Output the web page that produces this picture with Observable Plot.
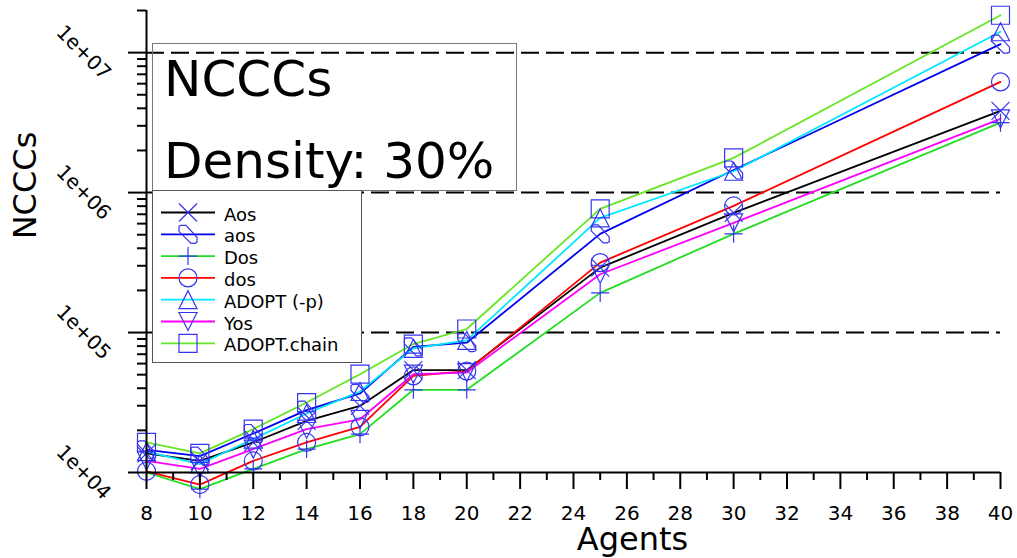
<!DOCTYPE html>
<html>
<head>
<meta charset="utf-8">
<script src="https://cdn.jsdelivr.net/npm/d3@7"></script>
<script src="https://cdn.jsdelivr.net/npm/@observablehq/plot@0.6"></script>
<style>
  html, body { margin: 0; padding: 0; background: #fff; }
  #wrap { position: relative; width: 1017px; height: 558px; font-family: "DejaVu Sans", sans-serif; }
  #overlay { position: absolute; left: 0; top: 0; pointer-events: none; }
</style>
</head>
<body>
<div id="wrap"></div>
<script>
// ---- data ----
const agents = [8, 10, 12, 14, 16, 18, 20, 25, 30, 40];
const seriesNames = ["Aos", "aos", "Dos", "dos", "ADOPT (-p)", "Yos", "ADOPT.chain"];
const Aos        = [13700, 12100, 16400, 23400, 29900, 53900, 53900, 291000, 716000, 3840000];
const aos        = [14500, 13100, 19000, 27900, 36700, 79000, 84600, 507000, 1450000, 11500000];
const Dos        = [10000, 7600, 10600, 14700, 18800, 39000, 39000, 192000, 507000, 3160000];
const dos        = [10200, 8200, 12100, 16400, 21200, 49000, 53000, 316000, 803000, 6180000];
const ADOPTp     = [14100, 11500, 17300, 26400, 37900, 77100, 88000, 659000, 1420000, 14100000];
const Yos        = [12100, 10600, 14700, 20400, 24000, 50400, 51800, 261000, 608000, 3360000];
const ADOPTchain = [16400, 13700, 20400, 31600, 50400, 82700, 106000, 765000, 1770000, 18500000];
const seriesValues = [Aos, aos, Dos, dos, ADOPTp, Yos, ADOPTchain];
const lineColors = ["#000000", "#0000ee", "#22dd22", "#ff0000", "#00e8ff", "#ff00ff", "#66e622"];
const markerColor = "#3535f0";
const xMajorTicks = [8, 10, 12, 14, 16, 18, 20, 22, 24, 26, 28, 30, 32, 34, 36, 38, 40];
const xMinorTicks = [9, 11, 13, 15, 17, 19, 21, 23, 25, 27, 29, 31, 33, 35, 37, 39];
const yDecades = [1e4, 1e5, 1e6, 1e7];
const yGrid = [1e5, 1e6, 1e7];
const yMinorTicks = [2,3,4,5,6,7,8,9].flatMap(m => [1e4, 1e5, 1e6].map(p => m * p)).concat([2e7]);
const titleLines = ["NCCCs", "Density: 30%"];

// ---- marker symbols ----
const sym = fn => ({ draw(ctx, size) { const r = Math.sqrt(size / Math.PI); fn(ctx, r); } });
const symbols = [
  sym((c, r) => { c.moveTo(-r, -r); c.lineTo(r, r); c.moveTo(-r, r); c.lineTo(r, -r); }),
  sym((c, r) => { const k = r / 9; c.moveTo(-9*k, -8*k); c.lineTo(-7*k, -9*k); c.lineTo(-2*k, -9*k); c.lineTo(9*k, 3*k); c.lineTo(9*k, 8*k); c.lineTo(7*k, 9*k); c.lineTo(3*k, 9*k); c.lineTo(-9*k, -3*k); c.closePath(); }),
  sym((c, r) => { c.moveTo(0, -r); c.lineTo(0, r); c.moveTo(-r, 0); c.lineTo(r, 0); }),
  sym((c, r) => { c.moveTo(r, 0); c.arc(0, 0, r, 0, 2 * Math.PI); }),
  sym((c, r) => { c.moveTo(0, -r); c.lineTo(r, r); c.lineTo(-r, r); c.closePath(); }),
  sym((c, r) => { c.moveTo(-r, -r); c.lineTo(r, -r); c.lineTo(0, r); c.closePath(); }),
  sym((c, r) => { c.rect(-r, -r, 2 * r, 2 * r); })
];

const tables = seriesNames.map((name, i) => agents.map((a, j) => ({ series: name, agents: a, value: seriesValues[i][j] })));

const fmtE = d => "1e+" + String(Math.round(Math.log10(d))).padStart(2, "0");

const chart = Plot.plot({
  width: 1017,
  height: 558,
  marginLeft: 146,
  marginRight: 17,
  marginTop: 10,
  marginBottom: 86,
  style: { fontFamily: "DejaVu Sans", background: "white", overflow: "visible" },
  x: { domain: [8, 40] },
  y: { type: "log", domain: [1e4, 2e7] },
  marks: [
    Plot.ruleY(yGrid, { stroke: "#000", strokeWidth: 2, strokeDasharray: "18,7" }),
    ...tables.map((t, i) => Plot.line(t, { x: "agents", y: "value", stroke: lineColors[i], strokeWidth: 1.8 })),
    ...tables.map((t, i) => Plot.dot(t, { x: "agents", y: "value", symbol: symbols[i], r: 9, stroke: markerColor, strokeWidth: 1.2, fill: "none" })),
    Plot.ruleY([1e4], { stroke: "#000", strokeWidth: 2 }),
    Plot.ruleX([8], { stroke: "#000", strokeWidth: 2 }),
    Plot.axisX({ ticks: xMajorTicks, tickSize: 17, tickPadding: 16, fontSize: 20, tickFormat: d => String(d), label: null, strokeWidth: 2 }),
    Plot.axisX({ ticks: xMinorTicks, tickSize: 8, tickFormat: () => "", label: null, strokeWidth: 2 }),
    Plot.axisY({ ticks: yDecades, tickSize: 18, tickFormat: () => "", label: null, strokeWidth: 2 }),
    Plot.axisY({ ticks: yMinorTicks, tickSize: 9, tickFormat: () => "", label: null, strokeWidth: 2 }),
    Plot.text(yDecades, { y: d => d, text: fmtE, frameAnchor: "left", dx: -63, rotate: 45, fontSize: 20, textAnchor: "middle", lineAnchor: "middle", fill: "#000" }),
    Plot.text(["NCCCs"], { frameAnchor: "left", dx: -121, dy: -56, rotate: -90, fontSize: 32, textAnchor: "middle", lineAnchor: "middle", fill: "#000" }),
    Plot.text(["Agents"], { frameAnchor: "bottom", dx: 59, dy: 67, fontSize: 32, textAnchor: "middle", lineAnchor: "middle", fill: "#000" })
  ]
});
document.getElementById("wrap").appendChild(chart);

// ---- overlay: title box and legend ----
const ov = d3.select("#wrap").append("svg").attr("id", "overlay").attr("width", 1017).attr("height", 558)
  .style("font-family", "DejaVu Sans");
ov.append("rect").attr("x", 152.5).attr("y", 43.5).attr("width", 364).attr("height", 147)
  .attr("fill", "none").attr("stroke", "#777").attr("stroke-width", 1);
ov.append("text").attr("x", 164).attr("y", 96).attr("font-size", 50).attr("fill", "#000").text(titleLines[0]);
ov.append("text").attr("x", 164).attr("y", 178).attr("font-size", 50).attr("fill", "#000").text(titleLines[1]);

ov.append("rect").attr("x", 152.5).attr("y", 190.5).attr("width", 209).attr("height", 172)
  .attr("fill", "#fff").attr("stroke", "#555").attr("stroke-width", 1);
seriesNames.forEach((name, i) => {
  const y = 212.5 + i * 21.8;
  ov.append("line").attr("x1", 161).attr("x2", 215).attr("y1", y).attr("y2", y)
    .attr("stroke", lineColors[i]).attr("stroke-width", 1.8);
  const p = d3.path();
  symbols[i].draw(p, Math.PI * 81);
  ov.append("path").attr("d", p.toString()).attr("transform", `translate(188,${y})`)
    .attr("fill", "none").attr("stroke", markerColor).attr("stroke-width", 1.2);
  ov.append("text").attr("x", 224).attr("y", y + 8).attr("font-size", 18).attr("fill", "#000").text(name);
});
</script>
</body>
</html>
